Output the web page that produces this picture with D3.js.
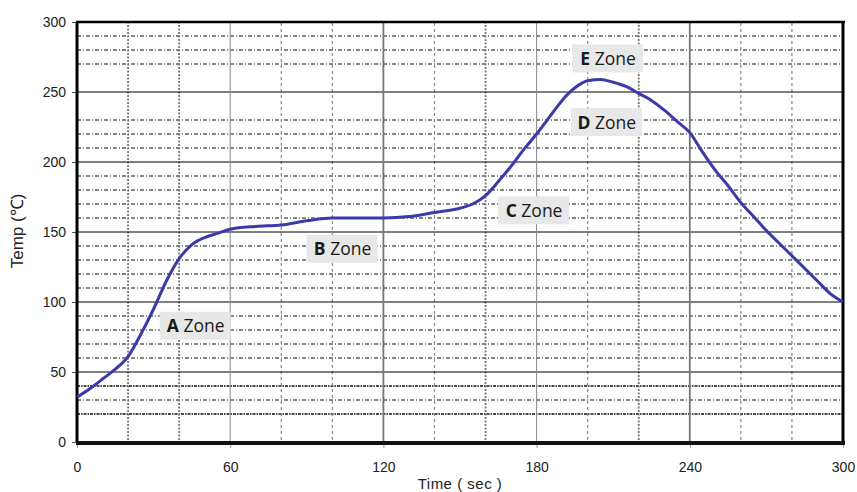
<!DOCTYPE html>
<html>
<head>
<meta charset="utf-8">
<script src="https://d3js.org/d3.v7.min.js"></script>
<style>
body { margin: 0; background: #fff; }
svg { display: block; }
</style>
</head>
<body>
<script>
// temperature profile
const times = [0, 5, 10, 15, 20, 25, 30, 35, 40, 45, 50, 55, 60, 70, 80, 90, 100, 110, 120, 130, 140, 150, 155, 160, 165, 170, 175, 180, 185, 190, 195, 200, 205, 210, 215, 220, 225, 230, 235, 240, 245, 250, 255, 260, 265, 270, 275, 280, 285, 290, 295, 300];
const temps = [32, 38, 45, 52, 61, 77, 95, 115, 131, 141, 146, 149, 152, 154, 155, 158, 160, 160, 160, 161, 164, 167, 170, 176, 186, 197, 209, 220, 232, 244, 253, 258, 259, 257, 254, 249, 244, 237, 229, 221, 207, 194, 183, 171, 161, 151, 142, 133, 124, 115, 106, 100];

const zoneNames = ["A", "B", "C", "D", "E"];
const zoneTimes = [46.5, 104, 179, 207.5, 208];
const zoneTemps = [83, 138, 165.5, 228.5, 274];

const xTicks = [0, 60, 120, 180, 240, 300];
const yTicks = [0, 50, 100, 150, 200, 250, 300];
// the dashed minor lines that are actually drawn in the original
const yMinor = [20, 30, 40, 60, 70, 80, 90, 110, 120, 130, 140, 160, 170, 180, 190, 210, 220, 230, 270, 280, 290];
const xMinor = [20, 40, 80, 100, 140, 160, 200, 220, 260, 280];
const xMinorHeavy = [20, 40, 160, 220];

const width = 857, height = 492;
const margin = {left: 77, right: 14, top: 22, bottom: 50};

const svg = d3.select("body").append("svg")
    .attr("width", width).attr("height", height);

const x = d3.scaleLinear().domain([0, 300]).range([margin.left, width - margin.right]);
const y = d3.scaleLinear().domain([0, 300]).range([height - margin.bottom, margin.top]);

const grid = svg.append("g");

grid.selectAll(".hmin")
    .data(yMinor)
    .enter().append("line")
    .attr("x1", x(0)).attr("x2", x(300))
    .attr("y1", d => y(d)).attr("y2", d => y(d))
    .attr("stroke", "#111")
    .attr("stroke-width", d => d == 20 || d == 40 ? 1.6 : 1)
    .attr("stroke-dasharray", d => d == 20 || d == 40 ? "3,1,1.5,1" : "4,2,1,2");

grid.selectAll(".vmin")
    .data(xMinor)
    .enter().append("line")
    .attr("x1", d => x(d)).attr("x2", d => x(d))
    .attr("y1", y(0) - 2).attr("y2", y(300))
    .attr("stroke", d => xMinorHeavy.includes(d) ? "#777" : "#888")
    .attr("stroke-width", d => xMinorHeavy.includes(d) ? 1.8 : 1.2)
    .attr("stroke-dasharray", d => xMinorHeavy.includes(d) ? "2,1.5" : "3,3");

grid.selectAll(".hmaj")
    .data(yTicks.slice(1, -1))
    .enter().append("line")
    .attr("x1", x(0)).attr("x2", x(300))
    .attr("y1", d => y(d)).attr("y2", d => y(d))
    .attr("stroke", "#000")
    .attr("stroke-width", 1);

grid.selectAll(".vmaj")
    .data(xTicks.slice(1, -1))
    .enter().append("line")
    .attr("x1", d => x(d)).attr("x2", d => x(d))
    .attr("y1", y(0)).attr("y2", y(300))
    .attr("stroke", d => d % 120 == 0 ? "#777" : "#888")
    .attr("stroke-width", d => d % 120 == 0 ? 1.8 : 1);

// axes
svg.append("g")
    .attr("transform", `translate(0,${y(0)})`)
    .call(d3.axisBottom(x).tickValues(xTicks).tickSize(6).tickPadding(14))
    .call(g => g.select(".domain").remove())
    .call(g => g.selectAll("line").attr("stroke", "#999"))
    .call(g => g.selectAll("text")
        .attr("font-family", "Liberation Sans, Arial, sans-serif")
        .attr("font-size", 14).attr("fill", "#222"));

svg.append("g")
    .attr("transform", `translate(${x(0)},0)`)
    .call(d3.axisLeft(y).tickValues(yTicks).tickSize(5).tickPadding(6))
    .call(g => g.select(".domain").remove())
    .call(g => g.selectAll("line").attr("stroke", "#555"))
    .call(g => g.selectAll("text")
        .attr("font-family", "Liberation Sans, Arial, sans-serif")
        .attr("font-size", 14).attr("fill", "#222"));

// frame
svg.append("line").attr("x1", x(0) - 1).attr("x2", x(300) + 2)
    .attr("y1", y(300)).attr("y2", y(300)).attr("stroke", "#000").attr("stroke-width", 2.5);
svg.append("line").attr("x1", x(0) - 1).attr("x2", x(300) + 2)
    .attr("y1", y(0) + 1).attr("y2", y(0) + 1).attr("stroke", "#111").attr("stroke-width", 4);
svg.append("line").attr("x1", x(0)).attr("x2", x(0))
    .attr("y1", y(300)).attr("y2", y(0)).attr("stroke", "#000").attr("stroke-width", 3);
svg.append("line").attr("x1", x(300)).attr("x2", x(300))
    .attr("y1", y(300)).attr("y2", y(0)).attr("stroke", "#000").attr("stroke-width", 3);

// curve
const pts = times.map((t, i) => [t, temps[i]]);
svg.append("path")
    .datum(pts)
    .attr("fill", "none")
    .attr("stroke", "#3a3aaa")
    .attr("stroke-width", 3)
    .attr("stroke-linejoin", "round")
    .attr("d", d3.line().x(d => x(d[0])).y(d => y(d[1])).curve(d3.curveMonotoneX));

// zone labels
const zones = zoneNames.map((n, i) => ({name: n, t: zoneTimes[i], v: zoneTemps[i]}));
const zg = svg.selectAll(".zone").data(zones).enter().append("g")
    .attr("transform", d => `translate(${x(d.t)},${y(d.v)})`);
zg.append("rect")
    .attr("x", -36).attr("y", -14).attr("width", 71).attr("height", 28)
    .attr("fill", "#e8e8e8");
const zt = zg.append("text")
    .attr("text-anchor", "middle")
    .attr("y", 6.5)
    .attr("font-family", "Open Sans, Noto Sans, sans-serif")
    .attr("font-size", 17.5)
    .attr("fill", "#1a1a1a");
zt.append("tspan").attr("font-weight", "bold").text(d => d.name);
zt.append("tspan").text(" Zone");

// axis titles
svg.append("text")
    .attr("x", (x(0) + x(300)) / 2).attr("y", 489)
    .attr("text-anchor", "middle")
    .attr("font-family", "Liberation Sans, Arial, sans-serif")
    .attr("font-size", 15).attr("fill", "#222")
    .attr("letter-spacing", 0.5)
    .text("Time ( sec )");

svg.append("text")
    .attr("transform", `translate(23,231) rotate(-90)`)
    .attr("text-anchor", "middle")
    .attr("font-family", "Liberation Sans, Arial, sans-serif")
    .attr("font-size", 17).attr("fill", "#222")
    .text("Temp (℃)");
</script>
</body>
</html>
